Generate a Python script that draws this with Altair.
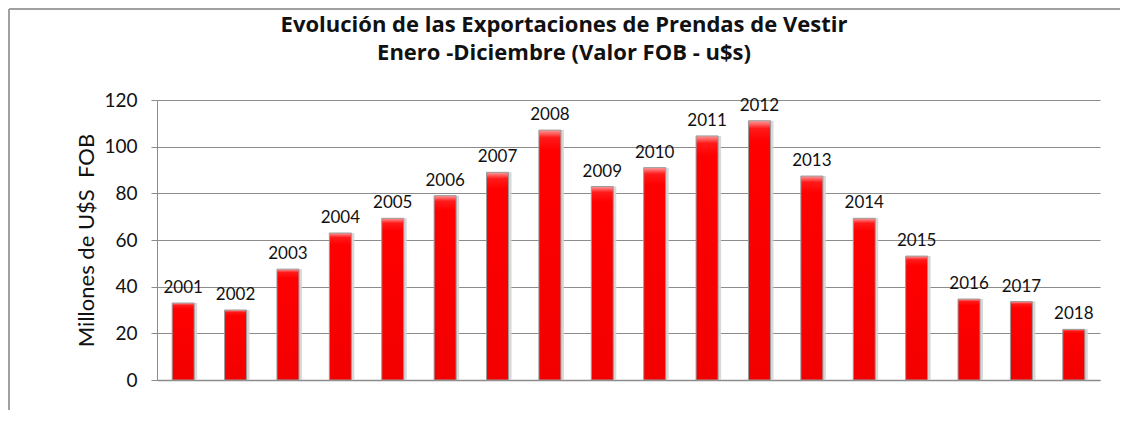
import altair as alt
import pandas as pd

years = [str(y) for y in range(2001, 2019)]
values = [33, 30, 47.5, 63, 69.3, 79, 89, 107.1, 82.9, 91, 104.6, 111.1, 87.4, 69.3, 53.1, 34.7, 33.6, 21.7]
y_ticks = [0, 20, 40, 60, 80, 100, 120]

title_line1 = "Evolución de las Exportaciones de Prendas de Vestir"
title_line2 = "Enero -Diciembre (Valor FOB - u$s)"
y_title = "Millones de U$S\u00a0 FOB"

df = pd.DataFrame({"year": years, "value": values})
one = pd.DataFrame({"k": [0]})

FONT = "Lato"
TFONT = "Open Sans"
GRID = "#8c8c8c"

x_enc = alt.X("year:N", sort=years,
              scale=alt.Scale(paddingInner=0, paddingOuter=0),
              axis=alt.Axis(labels=False, ticks=False, title=None,
                            domainColor=GRID, domainWidth=1.5, grid=False))
y_enc = alt.Y("value:Q",
              scale=alt.Scale(domain=[0, 120], nice=False),
              axis=alt.Axis(values=y_ticks, title=y_title, titleFont=FONT,
                            titleFontSize=22, titleFontWeight="normal",
                            titleColor="#111", titlePadding=5,
                            labelFont=FONT, labelFontSize=19, labelColor="#111",
                            labelPadding=14, tickSize=6, tickColor=GRID,
                            domainColor=GRID, gridColor=GRID, gridWidth=1))

base = alt.Chart(df)

shadow = base.mark_bar(size=22, xOffset=3, color="#d4d4d4", opacity=0.9).encode(
    x=x_enc, y=y_enc)

bars = base.mark_bar(
    size=22, stroke="#9a9a9a", strokeWidth=1,
    color=alt.Gradient(
        gradient="linear", x1=0, y1=0, x2=0, y2=1,
        stops=[alt.GradientStop(offset=0, color="#ff9a9a"),
               alt.GradientStop(offset=0.03, color="#ff1a1a"),
               alt.GradientStop(offset=0.08, color="#ff0000"),
               alt.GradientStop(offset=1, color="#f20000")])
).encode(x=x_enc, y=y_enc)

labels = base.mark_text(font=FONT, fontSize=17, color="#111",
                        baseline="alphabetic", dy=-10).encode(
    x=x_enc, y=y_enc, text="year:N")

title1 = alt.Chart(one).mark_text(font=TFONT, fontSize=22, fontWeight="bold",
                                  color="#111", align="center",
                                  baseline="alphabetic").encode(
    x=alt.value(407), y=alt.value(-68), text=alt.value(title_line1))
title2 = alt.Chart(one).mark_text(font=TFONT, fontSize=22, fontWeight="bold",
                                  color="#111", align="center",
                                  baseline="alphabetic").encode(
    x=alt.value(407), y=alt.value(-40), text=alt.value(title_line2))

border_top = alt.Chart(one).mark_rule(color="#a0a0a0", strokeWidth=2).encode(
    x=alt.value(-148), x2=alt.value(963), y=alt.value(-91))
border_left = alt.Chart(one).mark_rule(color="#a0a0a0", strokeWidth=2).encode(
    x=alt.value(-148), y=alt.value(-91), y2=alt.value(330))

chart = alt.layer(shadow, bars, labels, title1, title2,
                  border_top, border_left).properties(
    width=943, height=280,
    padding={"left": 149, "top": 92, "right": 20, "bottom": 30},
    autosize=alt.AutoSizeParams(type="none"),
    background="white",
).configure_view(stroke=None)

chart.save("out.html", embed_options={"renderer": "svg", "actions": False})
